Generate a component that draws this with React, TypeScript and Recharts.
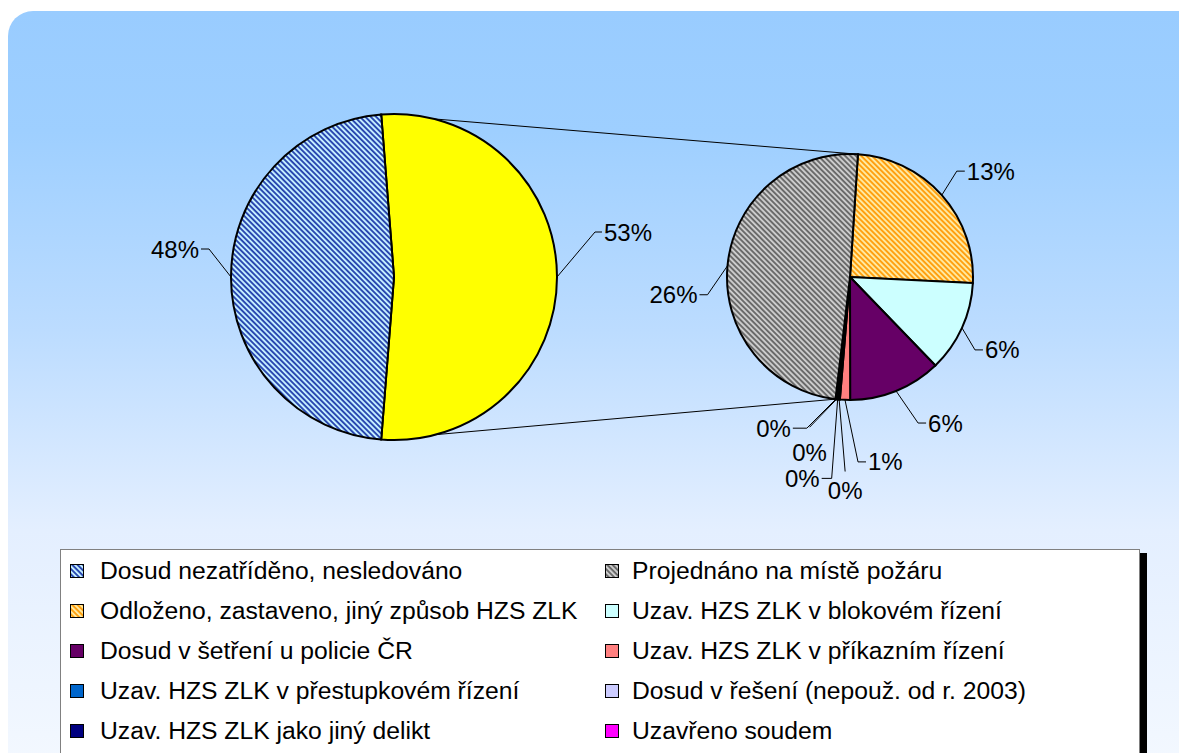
import React from 'react';
import { PieChart, Pie, Cell, Legend, Customized } from 'recharts';

const FONT = '"Liberation Sans", Arial, sans-serif';

// shares of all fires, in %
const UNCLASSIFIED_NAME = 'Dosud nezatříděno, nesledováno';
const UNCLASSIFIED_VALUE = 47.5;
const OTHER_NAME = 'Ostatní';

// breakdown of the "other" slice (secondary pie), clockwise
const DETAIL_NAMES = [
  'Odloženo, zastaveno, jiný způsob HZS ZLK',
  'Uzav. HZS ZLK v blokovém řízení',
  'Dosud v šetření u policie ČR',
  'Uzav. HZS ZLK v příkazním řízení',
  'Uzav. HZS ZLK v přestupkovém řízení',
  'Dosud v řešení (nepouž. od r. 2003)',
  'Uzav. HZS ZLK jako jiný delikt',
  'Uzavřeno soudem',
  'Projednáno na místě požáru',
];
const DETAIL_VALUES = [13.0, 6.3, 6.4, 0.7, 0.1, 0.1, 0.05, 0.05, 25.8];

// legend, row by row (two columns)
const LEGEND_ROWS = [
  ['Dosud nezatříděno, nesledováno', 'Projednáno na místě požáru'],
  ['Odloženo, zastaveno, jiný způsob HZS ZLK', 'Uzav. HZS ZLK v blokovém řízení'],
  ['Dosud v šetření u policie ČR', 'Uzav. HZS ZLK v příkazním řízení'],
  ['Uzav. HZS ZLK v přestupkovém řízení', 'Dosud v řešení (nepouž. od r. 2003)'],
  ['Uzav. HZS ZLK jako jiný delikt', 'Uzavřeno soudem'],
];

const FILLS: Record<string, string> = {
  [OTHER_NAME]: '#ffff00',
  'Dosud nezatříděno, nesledováno': 'url(#hatchBlue)',
  'Odloženo, zastaveno, jiný způsob HZS ZLK': 'url(#hatchOrange)',
  'Uzav. HZS ZLK v blokovém řízení': '#ccffff',
  'Dosud v šetření u policie ČR': '#660066',
  'Uzav. HZS ZLK v příkazním řízení': '#ff8080',
  'Uzav. HZS ZLK v přestupkovém řízení': '#0066cc',
  'Dosud v řešení (nepouž. od r. 2003)': '#ccccff',
  'Uzav. HZS ZLK jako jiný delikt': '#000080',
  'Uzavřeno soudem': '#ff00ff',
  'Projednáno na místě požáru': 'url(#hatchGray)',
};

const otherTotal = Math.round(DETAIL_VALUES.reduce((a, b) => a + b, 0) * 100) / 100;
const GRAND_TOTAL = UNCLASSIFIED_VALUE + otherTotal;

const mainData = [
  { name: OTHER_NAME, value: otherTotal },
  { name: UNCLASSIFIED_NAME, value: UNCLASSIFIED_VALUE },
];
const detailData = DETAIL_NAMES.map((name, i) => ({ name, value: DETAIL_VALUES[i] }));

// geometry
const MAIN_CX = 394;
const MAIN_CY = 277;
const MAIN_R = 163;
const MAIN_START = (otherTotal / GRAND_TOTAL) * 180; // other slice centred on the right
const DETAIL_CX = 850;
const DETAIL_CY = 277;
const DETAIL_R = 123;
const DETAIL_START = 86.3;

const RADIAN = Math.PI / 180;
const polar = (cx: number, cy: number, r: number, angle: number) => [
  cx + Math.cos(-angle * RADIAN) * r,
  cy + Math.sin(-angle * RADIAN) * r,
];

type LabelLayout = { dx: number; dy: number; stub: number; ty?: number };

const MAIN_LABELS: LabelLayout[] = [
  { dx: 38, dy: -45, stub: 7 },
  { dx: -22, dy: -28, stub: -8 },
];
const DETAIL_LABELS: LabelLayout[] = [
  { dx: 15, dy: -24, stub: 8 },
  { dx: 13, dy: 22, stub: 8 },
  { dx: 22, dy: 32, stub: 8 },
  { dx: 13, dy: 62, stub: 8 },
  { dx: 6, dy: 72, stub: 0, ty: 19 },
  { dx: -6, dy: 79, stub: -10 },
  { dx: -27, dy: 28, stub: 0, ty: 25 },
  { dx: -29, dy: 29, stub: -14 },
  { dx: -20, dy: 29, stub: -8 },
];

const makeLabel = (layout: LabelLayout[]) => (props: any) => {
  const { cx, cy, midAngle, outerRadius, index } = props;
  const value = props.value ?? props.payload?.value;
  const [ex, ey] = polar(cx, cy, outerRadius, midAngle);
  const l = layout[index];
  const bx = ex + l.dx;
  const by = ey + l.dy;
  const sx = bx + l.stub;
  const anchor = l.stub > 0 ? 'start' : l.stub < 0 ? 'end' : 'middle';
  return (
    <g key={`label-${index}`}>
      <polyline points={`${ex},${ey} ${bx},${by} ${sx},${by}`} fill="none" stroke="#000" strokeWidth={1} />
      <text
        x={sx + Math.sign(l.stub) * 2}
        y={by + (l.ty ?? 0)}
        textAnchor={anchor}
        dominantBaseline="central"
        fontFamily={FONT}
        fontSize={24}
        fill="#000"
      >
        {Math.round((value * 100) / GRAND_TOTAL)}%
      </text>
    </g>
  );
};

// lines joining the "other" slice with the secondary pie
const Connectors = () => {
  const beforeLast = DETAIL_VALUES.slice(0, -1).reduce((a, b) => a + b, 0);
  const lastStart = DETAIL_START - (beforeLast / otherTotal) * 360;
  const [x1, y1] = polar(MAIN_CX, MAIN_CY, MAIN_R, MAIN_START);
  const [x2, y2] = polar(DETAIL_CX, DETAIL_CY, DETAIL_R, DETAIL_START);
  const [x3, y3] = polar(MAIN_CX, MAIN_CY, MAIN_R, -MAIN_START);
  const [x4, y4] = polar(DETAIL_CX, DETAIL_CY, DETAIL_R, lastStart);
  return (
    <g>
      <line x1={x1} y1={y1} x2={x2} y2={y2} stroke="#000" strokeWidth={1} />
      <line x1={x3} y1={y3} x2={x4} y2={y4} stroke="#000" strokeWidth={1} />
    </g>
  );
};

const Patterns = () => (
  <svg width={0} height={0} style={{ position: 'absolute' }}>
    <defs>
      <pattern id="hatchBlue" patternUnits="userSpaceOnUse" width={3.8} height={3.8} patternTransform="rotate(-45)">
        <rect width={3.8} height={3.8} fill="#c4eeff" />
        <rect width={1.9} height={3.8} fill="#2a48b0" />
      </pattern>
      <pattern id="hatchOrange" patternUnits="userSpaceOnUse" width={3.8} height={3.8} patternTransform="rotate(-45)">
        <rect width={3.8} height={3.8} fill="#ffe9a0" />
        <rect width={1.9} height={3.8} fill="#ffa010" />
      </pattern>
      <pattern id="hatchGray" patternUnits="userSpaceOnUse" width={3.8} height={3.8} patternTransform="rotate(-45)">
        <rect width={3.8} height={3.8} fill="#cccccc" />
        <rect width={1.9} height={3.8} fill="#6a6a6a" />
      </pattern>
    </defs>
  </svg>
);

const Swatch = ({ name }: { name: string }) => (
  <svg width={14} height={14} style={{ display: 'block' }}>
    <rect x={0.5} y={0.5} width={13} height={13} fill={FILLS[name]} stroke="#000" strokeWidth={1} />
  </svg>
);

const renderLegend = () => (
  <div
    style={{
      width: 1080,
      height: 215,
      boxSizing: 'border-box',
      background: '#fff',
      border: '1px solid #808080',
      boxShadow: '7px 4px 0 #000',
      position: 'relative',
      fontFamily: FONT,
      fontSize: 24.7,
      color: '#000',
    }}
  >
    {LEGEND_ROWS.map((row, r) =>
      row.map((name, c) => (
        <div
          key={name}
          style={{
            position: 'absolute',
            left: c === 0 ? 9 : 544,
            top: 21 + r * 40 - 15,
            height: 30,
            display: 'flex',
            alignItems: 'center',
            whiteSpace: 'nowrap',
          }}
        >
          <Swatch name={name} />
          <span style={{ marginLeft: c === 0 ? 16 : 13 }}>{name}</span>
        </div>
      ))
    )}
  </div>
);

export default function App() {
  return (
    <div style={{ position: 'fixed', left: 0, top: 0, width: 1179, height: 753, overflow: 'hidden', background: '#fff' }}>
      <Patterns />
      <div
        style={{
          position: 'absolute',
          left: 8,
          top: 11,
          width: 1195,
          height: 800,
          borderRadius: 25,
          background: 'linear-gradient(to bottom, #99ccff 0%, #9ecfff 15%, #bcdcff 40%, #e4efff 65%, #f6faff 100%)',
        }}
      />
      <div style={{ position: 'absolute', left: 0, top: 0 }}>
        <PieChart width={1179} height={753} margin={{ top: 0, right: 0, bottom: 0, left: 0 }}>
          <Customized component={Connectors} />
          <Pie
            data={mainData}
            dataKey="value"
            nameKey="name"
            cx={MAIN_CX}
            cy={MAIN_CY}
            outerRadius={MAIN_R}
            startAngle={MAIN_START}
            endAngle={MAIN_START - 360}
            stroke="#000"
            strokeWidth={2}
            label={makeLabel(MAIN_LABELS)}
            labelLine={false}
            isAnimationActive={false}
          >
            {mainData.map((d) => (
              <Cell key={d.name} fill={FILLS[d.name]} />
            ))}
          </Pie>
          <Pie
            data={detailData}
            dataKey="value"
            nameKey="name"
            cx={DETAIL_CX}
            cy={DETAIL_CY}
            outerRadius={DETAIL_R}
            startAngle={DETAIL_START}
            endAngle={DETAIL_START - 360}
            stroke="#000"
            strokeWidth={2}
            label={makeLabel(DETAIL_LABELS)}
            labelLine={false}
            isAnimationActive={false}
          >
            {detailData.map((d) => (
              <Cell key={d.name} fill={FILLS[d.name]} />
            ))}
          </Pie>
          <Legend
            content={renderLegend}
            wrapperStyle={{ left: 60, top: 549, width: 1080, height: 215 }}
          />
        </PieChart>
      </div>
    </div>
  );
}
